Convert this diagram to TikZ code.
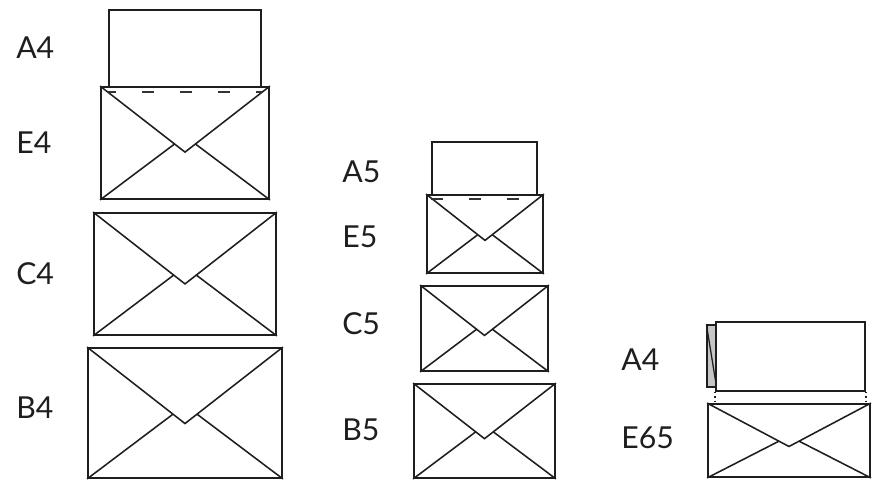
\documentclass[tikz,border=0pt]{standalone}
\usepackage{fontspec}
\setmainfont{Lato}
\usetikzlibrary{calc,fit}
\definecolor{Ink}{HTML}{1E1E1E}
\definecolor{Fold}{HTML}{333333}
\definecolor{Tab}{HTML}{C6C6C6}
\tikzset{
  sheet/.style={draw=Ink, line width=1.2pt, fill=white, inner sep=0pt},
  envbox/.style={draw=Ink, line width=1.3pt, fill=white, inner sep=0pt},
  flap/.style={draw=Ink, line width=1.1pt},
  foldline/.style={draw=Fold, line width=1.3pt, dash pattern=on 8.5pt off 18.5pt},
  sizelabel/.style={anchor=base west, inner sep=0pt, text=Ink, font=\fontsize{21.5}{24}\selectfont},
}
\newcommand{\envelope}[5]{%
  \node[envbox, fit={(#2,#3) (#4,#5)}] (#1) {};
  \coordinate (#1-v) at ($(#1.north)!0.58!(#1.south)$);
  \coordinate (#1-m) at ($(#1.north)!0.44!(#1.south)$);
  \draw[flap] (#1.north west) -- (#1-v) -- (#1.north east);
  \draw[flap] (#1.south west) -- ($(#1.south west)!0.877!(#1-m)$);
  \draw[flap] (#1.south east) -- ($(#1.south east)!0.877!(#1-m)$);
}

\begin{document}
\begin{tikzpicture}[x=0.025cm, y=-0.025cm]
\useasboundingbox (0,0) rectangle (880,480);

\node[sheet, fit={(109,10) (261,88)}] (a4) {};
\envelope{e4}{101}{87}{269}{199}
\draw[foldline, dash phase=3pt] ($(a4.south west)+(0,3.5)$) -- ($(a4.south east)+(0,3.5)$);
\envelope{c4}{94}{213}{276}{335}
\envelope{b4}{88}{348}{282}{478}

\node[sheet, fit={(432,142) (537,195)}] (a5) {};
\envelope{e5}{427}{195}{543}{273}
\draw[foldline, dash phase=0pt] ($(a5.south west)+(0,3)$) -- ($(a5.south east)+(0,3)$);
\envelope{c5}{421}{286}{548}{371}
\envelope{b5}{414}{384}{555}{478}

\node[sheet, fill=Tab, line width=0.9pt, fit={(707,325) (716,387)}] (tab) {};
\draw[flap, line width=0.9pt] (tab.north west) -- (tab.south east);
\node[sheet, fit={(716,322) (865,391)}] (a4r) {};
\envelope{e65}{708}{404}{870}{477}
\draw[Ink, line width=1.1pt, dotted] (a4r.south west) -- (a4r.south west |- e65.north);
\draw[Ink, line width=1.1pt, dotted] (a4r.south east) -- (a4r.south east |- e65.north);

\node[sizelabel] (a4-label) at (16,58) {A4};
\node[sizelabel] (e4-label) at (16,153) {E4};
\node[sizelabel] (c4-label) at (16,284) {C4};
\node[sizelabel] (b4-label) at (16,418) {B4};
\node[sizelabel] (a5-label) at (342,182) {A5};
\node[sizelabel] (e5-label) at (342,247) {E5};
\node[sizelabel] (c5-label) at (342,334) {C5};
\node[sizelabel] (b5-label) at (342,440) {B5};
\node[sizelabel] (a4r-label) at (621,370) {A4};
\node[sizelabel] (e65-label) at (621,448) {E65};
\end{tikzpicture}
\end{document}
